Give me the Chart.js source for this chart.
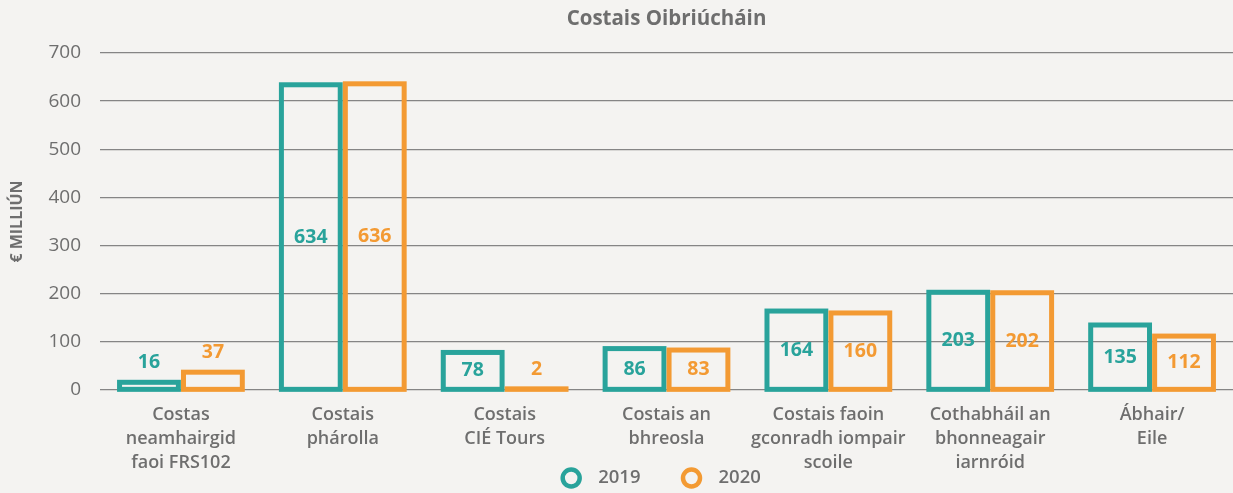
<!DOCTYPE html>
<html>
<head>
<meta charset="utf-8">
<script src="https://cdn.jsdelivr.net/npm/chart.js@4.4.0/dist/chart.umd.min.js"></script>
<style>
  html, body { margin: 0; padding: 0; background: #f4f3f1; }
  #wrap { width: 1233px; height: 493px; position: relative; }
</style>
</head>
<body>
<div id="wrap"><canvas id="costs"></canvas></div>
<script>
  // data
  const categories = [
    ["Costas", "neamhairgid", "faoi FRS102"],
    ["Costais", "phárolla"],
    ["Costais", "CIÉ Tours"],
    ["Costais an", "bhreosla"],
    ["Costais faoin", "gconradh iompair", "scoile"],
    ["Cothabháil an", "bhonneagair", "iarnróid"],
    ["Ábhair/", "Eile"]
  ];
  const years = ["2019", "2020"];
  const values2019 = [16, 634, 78, 86, 164, 203, 135];
  const values2020 = [37, 636, 2, 83, 160, 202, 112];
  const yTicks = [0, 100, 200, 300, 400, 500, 600, 700];

  const TEAL = "#29a39b";
  const ORANGE = "#f39a33";
  const GREY = "#6e6e6e";
  const FONT = "'Open Sans', sans-serif";

  // outline each bar with a stroke centred on its edge (as in the print original)
  const barOutline = {
    id: "barOutline",
    afterDatasetsDraw(chart) {
      const ctx = chart.ctx;
      ctx.save();
      ctx.lineWidth = 5;
      ctx.lineJoin = "miter";
      chart.data.datasets.forEach((ds, i) => {
        ctx.strokeStyle = ds.outline;
        chart.getDatasetMeta(i).data.forEach(bar => {
          const h = Math.max(bar.base - bar.y, 0.5);
          ctx.strokeRect(bar.x - bar.width / 2, bar.base - h, bar.width, h);
        });
      });
      ctx.restore();
    }
  };

  // value labels: centred in tall bars, above short ones
  const valueLabels = {
    id: "valueLabels",
    afterDatasetsDraw(chart) {
      const ctx = chart.ctx;
      ctx.save();
      ctx.font = "700 19.5px " + FONT;
      ctx.textAlign = "center";
      ctx.textBaseline = "middle";
      chart.data.datasets.forEach((ds, i) => {
        chart.getDatasetMeta(i).data.forEach((bar, j) => {
          const h = bar.base - bar.y;
          const y = h > 30 ? (bar.y + bar.base) / 2 : bar.y - 20;
          ctx.fillStyle = ds.outline;
          ctx.fillText(String(ds.data[j]), bar.x, y);
        });
      });
      ctx.restore();
    }
  };

  // title centred over the plot area
  const plotTitle = {
    id: "plotTitle",
    afterDraw(chart) {
      const ctx = chart.ctx;
      const a = chart.chartArea;
      ctx.save();
      ctx.font = "700 20.5px " + FONT;
      ctx.fillStyle = GREY;
      ctx.textAlign = "center";
      ctx.textBaseline = "middle";
      ctx.fillText("Costais Oibriúcháin", (a.left + a.right) / 2, 19);
      ctx.restore();
    }
  };

  // ring legend at the bottom
  const ringLegend = {
    id: "ringLegend",
    afterDraw(chart) {
      const ctx = chart.ctx;
      const a = chart.chartArea;
      ctx.save();
      ctx.font = "600 18.5px " + FONT;
      ctx.textBaseline = "middle";
      const items = chart.data.datasets.map(ds => ({
        text: ds.label, color: ds.outline, w: 22 + 16 + ctx.measureText(ds.label).width
      }));
      const gap = 40;
      const total = items.reduce((s, it) => s + it.w, 0) + gap * (items.length - 1);
      let x = (a.left + a.right) / 2 - 6 - total / 2;
      const y = chart.height - 15;
      items.forEach(it => {
        ctx.beginPath();
        ctx.lineWidth = 4.5;
        ctx.strokeStyle = it.color;
        ctx.arc(x + 11, y, 8.5, 0, Math.PI * 2);
        ctx.stroke();
        ctx.fillStyle = GREY;
        ctx.textAlign = "left";
        ctx.fillText(it.text, x + 38, y);
        x += it.w + gap;
      });
      ctx.restore();
    }
  };

  const barStyle = {
    backgroundColor: "rgba(0,0,0,0)",
    borderWidth: 0,
    categoryPercentage: 0.79,
    barPercentage: 0.92
  };

  new Chart(document.getElementById("costs"), {
    type: "bar",
    data: {
      labels: categories,
      datasets: [
        Object.assign({ label: years[0], data: values2019, outline: TEAL, borderColor: TEAL }, barStyle),
        Object.assign({ label: years[1], data: values2020, outline: ORANGE, borderColor: ORANGE }, barStyle)
      ]
    },
    plugins: [barOutline, valueLabels, plotTitle, ringLegend],
    options: {
      responsive: true,
      maintainAspectRatio: false,
      animation: false,
      layout: { padding: { top: 53, right: 0, bottom: 23, left: 0 } },
      plugins: {
        legend: { display: false },
        tooltip: { enabled: false }
      },
      scales: {
        x: {
          grid: { display: false, drawTicks: false },
          border: { display: false },
          ticks: {
            color: GREY,
            padding: 13,
            maxRotation: 0,
            autoSkip: false,
            font: { family: FONT, size: 18, weight: "600", lineHeight: "24px" }
          },
          afterFit(scale) { scale.height = 80; }
        },
        y: {
          min: 0,
          max: 700,
          afterBuildTicks(scale) { scale.ticks = yTicks.map(v => ({ value: v })); },
          grid: { color: "#858585", lineWidth: 1.3, drawTicks: false },
          border: { display: false },
          ticks: {
            color: GREY,
            padding: 19,
            font: { family: FONT, size: 19 }
          },
          title: {
            display: true,
            text: "€ MILLIÚN",
            color: GREY,
            padding: { top: 8, bottom: 0 },
            font: { family: FONT, size: 16, weight: "700" }
          },
          afterFit(scale) { scale.width = 100; }
        }
      }
    }
  });
</script>
</body>
</html>
